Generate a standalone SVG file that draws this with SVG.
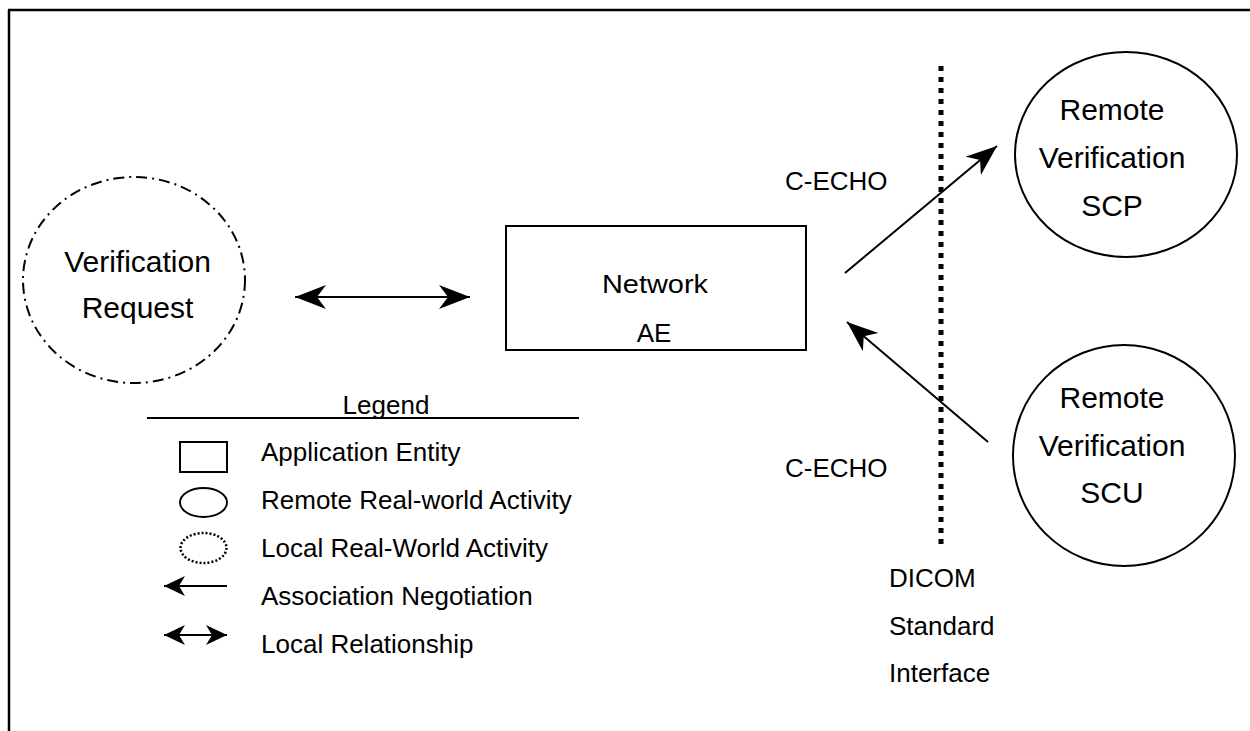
<svg xmlns="http://www.w3.org/2000/svg" width="1250" height="731" viewBox="0 0 1250 731">
<style>
text{font-family:"Liberation Sans",Arial,sans-serif;fill:#000}
.t30{font-size:30px}
.t26{font-size:26px}
.mid{text-anchor:middle}
.ln{stroke:#000;stroke-width:2;fill:none}
</style>
<defs>
<marker id="ah" markerUnits="userSpaceOnUse" markerWidth="34" markerHeight="26" refX="31" refY="12" orient="auto-start-reverse">
<path d="M31,12 L0,0 L9,12 L0,24 Z" fill="#000"/>
</marker>
<marker id="ahs" markerUnits="userSpaceOnUse" markerWidth="24" markerHeight="22" refX="21" refY="10" orient="auto-start-reverse">
<path d="M21,10 L0,0 L6,10 L0,20 Z" fill="#000"/>
</marker>
</defs>
<rect width="1250" height="731" fill="#fff"/>
<g id="frame">
<path d="M8,10 H1250 M9,10 V731" stroke="#000" stroke-width="2.5" fill="none"/>
</g>
<g id="verification-request">
<ellipse cx="134" cy="280" rx="111" ry="103" class="ln" stroke-dasharray="11 5 2 5"/>
<text class="t30 mid" x="137.5" y="272">Verification</text>
<text class="t30 mid" x="137.5" y="318">Request</text>
</g>
<g id="network-ae">
<rect x="506" y="226" width="300" height="124" class="ln"/>
<text class="t26 mid" x="655" y="293" textLength="106" lengthAdjust="spacingAndGlyphs">Network</text>
<text class="t26 mid" x="654" y="342">AE</text>
</g>
<g id="remote-scp">
<ellipse cx="1126" cy="154.5" rx="111" ry="102.5" class="ln"/>
<text class="t30 mid" x="1112" y="120">Remote</text>
<text class="t30 mid" x="1112" y="168">Verification</text>
<text class="t30 mid" x="1112" y="216">SCP</text>
</g>
<g id="remote-scu">
<ellipse cx="1124" cy="455.5" rx="111" ry="110.5" class="ln"/>
<text class="t30 mid" x="1112" y="408">Remote</text>
<text class="t30 mid" x="1112" y="456">Verification</text>
<text class="t30 mid" x="1112" y="503">SCU</text>
</g>
<g id="dicom-interface">
<line x1="941" y1="66" x2="941" y2="545" stroke="#000" stroke-width="5" stroke-dasharray="5 6"/>
<text class="t26" x="889" y="587">DICOM</text>
<text class="t26" x="889" y="635">Standard</text>
<text class="t26" x="889" y="682">Interface</text>
</g>
<g id="connectors">
<line x1="295" y1="297" x2="470" y2="297" class="ln" marker-start="url(#ah)" marker-end="url(#ah)"/>
<line x1="845" y1="273" x2="997" y2="146" class="ln" marker-end="url(#ah)"/>
<line x1="988" y1="442" x2="847" y2="322" class="ln" marker-end="url(#ah)"/>
<text class="t26" x="785" y="190">C-ECHO</text>
<text class="t26" x="785" y="477">C-ECHO</text>
</g>
<g id="legend">
<text class="t26 mid" x="386" y="414">Legend</text>
<line x1="147" y1="418" x2="579" y2="418" class="ln"/>
<rect x="180" y="442" width="47" height="30" class="ln"/>
<ellipse cx="203.5" cy="502.5" rx="23.5" ry="14.5" class="ln"/>
<ellipse cx="203.5" cy="548" rx="23" ry="15" stroke="#000" stroke-width="2.5" fill="none" stroke-dasharray="2 2"/>
<line x1="164" y1="586" x2="227" y2="586" class="ln" marker-start="url(#ahs)"/>
<line x1="164" y1="635" x2="227" y2="635" class="ln" marker-start="url(#ahs)" marker-end="url(#ahs)"/>
<text class="t26" x="261" y="461">Application Entity</text>
<text class="t26" x="261" y="509">Remote Real-world Activity</text>
<text class="t26" x="261" y="557">Local Real-World Activity</text>
<text class="t26" x="261" y="605">Association Negotiation</text>
<text class="t26" x="261" y="653">Local Relationship</text>
</g>
</svg>
